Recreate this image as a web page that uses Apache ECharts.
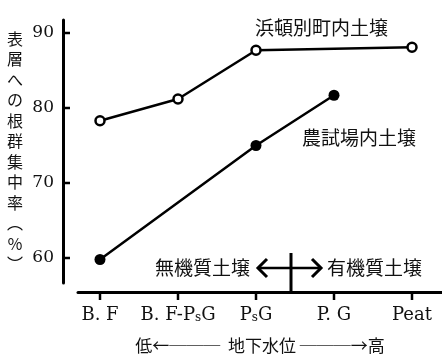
<!DOCTYPE html>
<html><head><meta charset="utf-8">
<script src="https://cdn.jsdelivr.net/npm/echarts@6/dist/echarts.min.js"></script>
<style>html,body{margin:0;padding:0;background:#fff}#c{width:442px;height:363px}</style>
</head><body><div id="c"></div>
<script>
const categories = ['B. F', 'B. F-PsG', 'PsG', 'P. G', 'Peat'];
const hamaValues = [78.3, 81.2, 87.7, null, 88.1];
const noshiValues = [59.8, null, 75.0, 81.7, null];
const yTicks = [60, 70, 80, 90];
const hamaName = '浜頓別町内土壌';
const noshiName = '農試場内土壌';
const yName = '表層への根群集中率︵％︶';
const xName = '低←───  地下水位 ───→高';
const leftGroup = '無機質土壌';
const rightGroup = '有機質土壌';

const CJK = '"Noto Sans CJK JP", sans-serif';
const SERIF = '"DejaVu Serif", serif';
const X_OFFSET = 34;
const Y_OFFSET = 37;

function toPairs(vals) { return vals.map((v, i) => [i, v]); }

const chart = echarts.init(document.getElementById('c'), null, {renderer: 'canvas'});
const option = {
  backgroundColor: '#fff',
  animation: false,
  grid: [
    {left: 78, right: 0, top: 20, bottom: 80},
    {left: 100, right: 30, top: 33, bottom: 105}
  ],
  xAxis: [{
    type: 'value', min: -0.282, max: 4.385, offset: 9,
    splitLine: {show: false},
    axisLine: {show: true, onZero: false, lineStyle: {color: '#000', width: 3}},
    axisTick: {show: false},
    axisLabel: {show: false},
    name: xName, nameLocation: 'middle', nameGap: 45,
    nameTextStyle: {fontFamily: CJK, fontSize: 17, color: '#111'}
  }, {
    gridIndex: 1, type: 'value', min: 0, max: categories.length - 1, interval: 1, offset: X_OFFSET,
    splitLine: {show: false},
    axisLine: {show: false, onZero: false},
    axisTick: {show: false},
    axisLabel: {
      margin: 12, color: '#111', fontFamily: SERIF, fontSize: 18,
      formatter: function (v) {
        const s = categories[Math.round(v)] || '';
        return s.split('PsG').map(p => p ? '{n|' + p + '}' : '').join('{n|P}{s|s}{n|G}');
      },
      rich: {
        n: {fontFamily: SERIF, fontSize: 18, color: '#111', verticalAlign: 'bottom', lineHeight: 20},
        s: {fontFamily: SERIF, fontSize: 12, color: '#111', verticalAlign: 'bottom', lineHeight: 14}
      }
    }
  }],
  yAxis: [{
    type: 'value', min: 56.667, max: 91.733, offset: 15,
    splitLine: {show: false},
    axisLine: {show: true, onZero: false, lineStyle: {color: '#000', width: 3}},
    axisTick: {show: false},
    axisLabel: {show: false},
    name: yName.split('').join('\n'), nameLocation: 'middle', nameGap: 48, nameRotate: 0,
    nameTextStyle: {fontFamily: CJK, fontSize: 16, lineHeight: 20.5, color: '#111', align: 'center', verticalAlign: 'middle'}
  }, {
    gridIndex: 1, type: 'value', min: yTicks[0], max: yTicks[yTicks.length - 1], interval: 10, offset: Y_OFFSET,
    splitLine: {show: false},
    axisLine: {show: false, onZero: false},
    axisTick: {show: false},
    axisLabel: {margin: 9, color: '#111', fontFamily: SERIF, fontSize: 17}
  }],
  series: [
    {
      type: 'line', name: hamaName, data: toPairs(hamaValues), connectNulls: true,
      xAxisIndex: 1, yAxisIndex: 1, clip: false,
      symbol: 'circle', symbolSize: 9,
      itemStyle: {color: '#fff', borderColor: '#000', borderWidth: 2.5},
      lineStyle: {color: '#000', width: 2.5}, z: 3
    },
    {
      type: 'line', name: noshiName, data: toPairs(noshiValues), connectNulls: true,
      xAxisIndex: 1, yAxisIndex: 1, clip: false,
      symbol: 'circle', symbolSize: 11,
      itemStyle: {color: '#000', borderColor: '#000', borderWidth: 0},
      lineStyle: {color: '#000', width: 2.5}, z: 3
    },
    {
      // x-axis tick marks at each category, placed through the axis scale
      type: 'custom', xAxisIndex: 1, yAxisIndex: 1, silent: true, clip: false,
      data: categories.map((c, i) => [i, yTicks[0]]),
      renderItem: function (params, api) {
        const p = api.coord([api.value(0), api.value(1)]);
        return {type: 'line', shape: {x1: p[0], y1: p[1] + X_OFFSET, x2: p[0], y2: p[1] + X_OFFSET + 8},
          style: {stroke: '#000', lineWidth: 2.5}};
      }
    },
    {
      // y-axis tick marks at each labelled value
      type: 'custom', xAxisIndex: 1, yAxisIndex: 1, silent: true, clip: false,
      data: yTicks.map(v => [0, v]),
      renderItem: function (params, api) {
        const p = api.coord([api.value(0), api.value(1)]);
        return {type: 'line', shape: {x1: p[0] - Y_OFFSET, y1: p[1], x2: p[0] - Y_OFFSET + 7, y2: p[1]},
          style: {stroke: '#000', lineWidth: 2.5}};
      }
    }
  ],
  graphic: [
    {type: 'text', left: 255, top: 18, style: {text: hamaName, font: '19px ' + CJK, fill: '#111'}},
    {type: 'text', left: 302, top: 128, style: {text: noshiName, font: '19px ' + CJK, fill: '#111'}},
    {type: 'text', right: 442 - 250, top: 258, style: {text: leftGroup, font: '19px ' + CJK, fill: '#111'}},
    {type: 'text', left: 327, top: 258, style: {text: rightGroup, font: '19px ' + CJK, fill: '#111'}},
    {type: 'line', shape: {x1: 291, y1: 253, x2: 291, y2: 292}, style: {stroke: '#000', lineWidth: 3}},
    {type: 'line', shape: {x1: 258, y1: 268, x2: 321, y2: 268}, style: {stroke: '#000', lineWidth: 2.5}},
    {type: 'polyline', shape: {points: [[267, 259], [258, 268], [267, 277]]}, style: {stroke: '#000', lineWidth: 3, fill: null}},
    {type: 'polyline', shape: {points: [[312, 259], [321, 268], [312, 277]]}, style: {stroke: '#000', lineWidth: 3, fill: null}}
  ]
};
chart.setOption(option);
</script>
</body></html>
